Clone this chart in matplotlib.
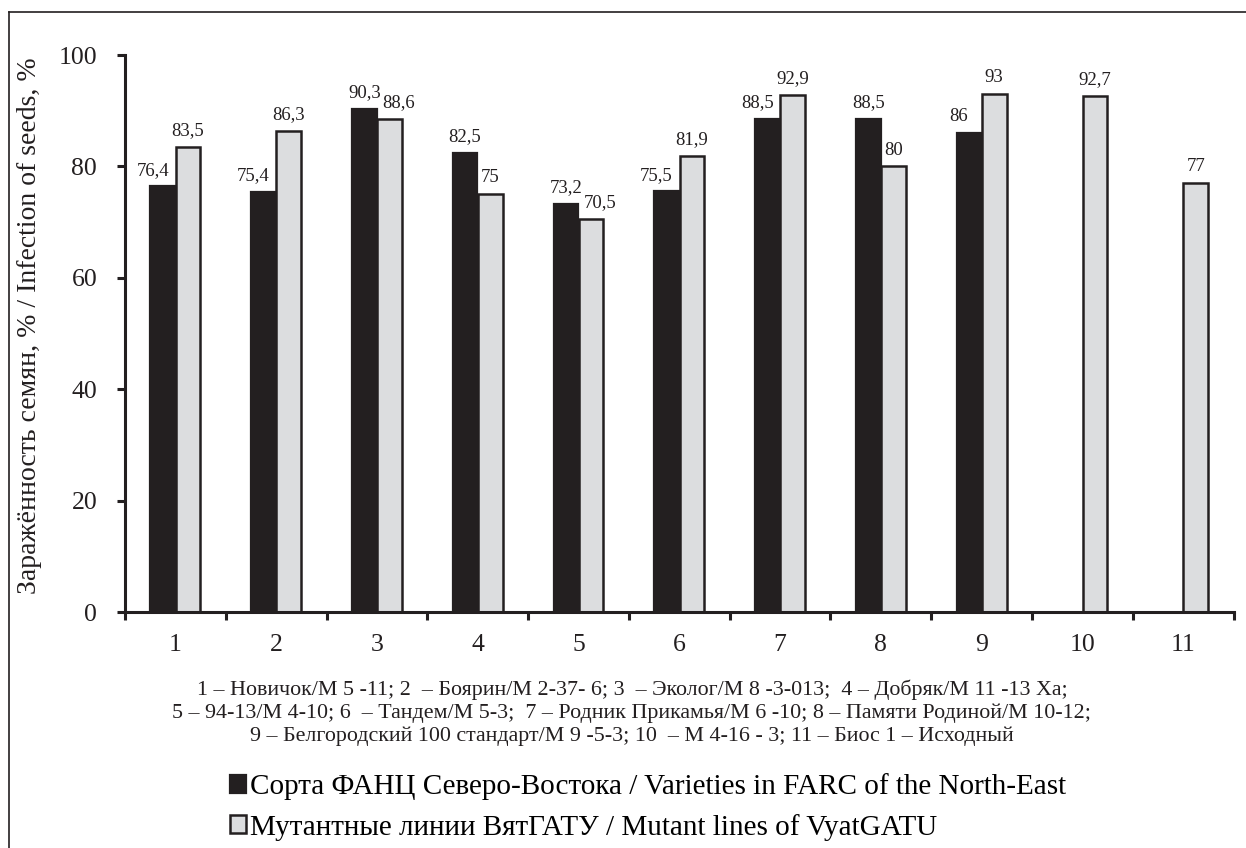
import numpy as np
import matplotlib
matplotlib.use("Agg")
import matplotlib.pyplot as plt
from matplotlib.lines import Line2D

# data
categories = ['1', '2', '3', '4', '5', '6', '7', '8', '9', '10', '11']
farc = [76.4, 75.4, 90.3, 82.5, 73.2, 75.5, 88.5, 88.5, 86, np.nan, np.nan]
mutant = [83.5, 86.3, 88.6, 75, 70.5, 81.9, 92.9, 80, 93, 92.7, 77]
yticks = [0, 20, 40, 60, 80, 100]

ylabel = 'Заражённость семян, % / Infection of seeds, %'
caption = ['1 – Новичок/М 5 -11; 2  – Боярин/М 2-37- 6; 3  – Эколог/М 8 -3-013;  4 – Добряк/М 11 -13 Ха;',
           '5 – 94-13/М 4-10; 6  – Тандем/М 5-3;  7 – Родник Прикамья/М 6 -10; 8 – Памяти Родиной/М 10-12;',
           '9 – Белгородский 100 стандарт/М 9 -5-3; 10  – М 4-16 - 3; 11 – Биос 1 – Исходный']
legend_labels = ['Сорта ФАНЦ Северо-Востока / Varieties in FARC of the North-East',
                 'Мутантные линии ВятГАТУ / Mutant lines of VyatGATU']

ink = '#231f20'
grey = '#dcdddf'

plt.rcParams['font.family'] = 'serif'
plt.rcParams['font.serif'] = ['Liberation Serif', 'DejaVu Serif']


def fmt(v):
    if v == int(v):
        return str(int(v))
    return ('%.1f' % v).replace('.', ',')


def main():
    fig = plt.figure(figsize=(12.46, 8.48), dpi=100)
    ax = fig.add_axes([0.1003, 0.2783, 0.8897, 0.6568])

    x = np.arange(1, len(categories) + 1)
    w = 0.245
    b1 = ax.bar(x - 0.125, farc, w, color=ink, edgecolor=ink, linewidth=1.6, label=legend_labels[0])
    b2 = ax.bar(x + 0.125, mutant, w, color=grey, edgecolor=ink, linewidth=1.8, label=legend_labels[1])

    for i in range(len(categories)):
        a, g = farc[i], mutant[i]
        if not np.isnan(a):
            dx = -0.1 if g > a else 0
            ax.text(x[i] - 0.125 + dx, a + 1.4, fmt(a), ha='center', va='bottom', fontsize=13.5, color=ink)
        dx = 0.09 if (not np.isnan(a) and 0 < a - g < 3) else 0
        ax.text(x[i] + 0.125 + dx, g + 1.4, fmt(g), ha='center', va='bottom', fontsize=13.5, color=ink)

    ax.set_xlim(0.5, len(categories) + 0.5)
    ax.set_ylim(0, 100)
    ax.set_yticks(yticks)
    ax.set_yticklabels([str(v) for v in yticks])
    ax.set_xticks(np.arange(0.5, len(categories) + 1))
    ax.set_xticklabels([])
    ax.set_xticks(x, minor=True)
    ax.set_xticklabels(categories, minor=True)

    for s in ['top', 'right']:
        ax.spines[s].set_visible(False)
    for s in ['left', 'bottom']:
        ax.spines[s].set_linewidth(2.2)
        ax.spines[s].set_color(ink)
    ax.tick_params(axis='y', which='major', direction='out', length=6, width=2.2, color=ink,
                   labelsize=18.5, pad=14, labelcolor=ink)
    ax.tick_params(axis='x', which='major', direction='out', length=6, width=2.2, color=ink)
    ax.tick_params(axis='x', which='minor', length=0, labelsize=18.5, pad=16, labelcolor=ink)

    fig.text(30 / 1246, 1 - 326 / 848, ylabel, rotation=90, ha='center', va='center',
             fontsize=20, color=ink)

    ys = [690, 713, 736]
    for line, yy in zip(caption, ys):
        fig.text(632 / 1246, 1 - yy / 848, line, ha='center', va='center', fontsize=15.8, color=ink)

    fig.legend(handles=[b1, b2], loc='center left', bbox_to_anchor=(230 / 1246, 1 - 807 / 848),
               frameon=False, fontsize=21, handlelength=0.55, handleheight=0.55,
               handletextpad=0.15, labelspacing=0.45, borderpad=0, borderaxespad=0)

    # frame around the figure (top and left edges visible)
    fig.add_artist(Line2D([9 / 1246, 9 / 1246], [0, 1 - 12 / 848], transform=fig.transFigure,
                          color=ink, linewidth=1.2))
    fig.add_artist(Line2D([9 / 1246, 1], [1 - 12 / 848, 1 - 12 / 848], transform=fig.transFigure,
                          color=ink, linewidth=1.2))

    fig.savefig('out.png', dpi=100)


if __name__ == "__main__":
    main()
